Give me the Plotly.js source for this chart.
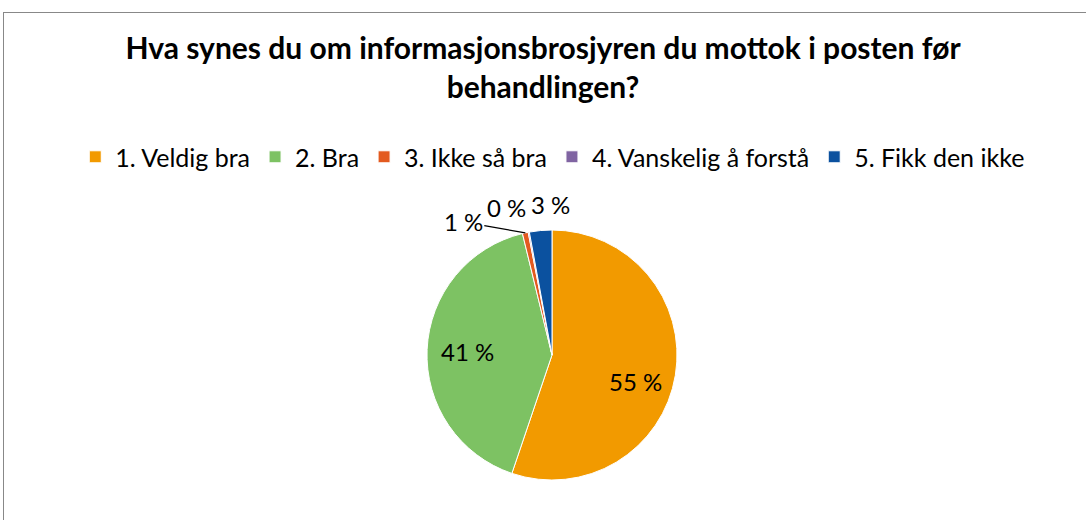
<!DOCTYPE html>
<html><head><meta charset="utf-8">
<script src="https://cdn.plot.ly/plotly-3.0.1.min.js"></script>
<style>
html,body{margin:0;padding:0;background:#fff;overflow:hidden}
#chart{width:1086px;height:520px;position:relative}
#frame{position:absolute;left:3px;top:12px;width:1200px;height:600px;border:1px solid #888;pointer-events:none}
</style></head><body>
<div id="chart"></div>
<div id="frame"></div>
<script>
const titleText = 'Hva synes du om informasjonsbrosjyren du mottok i posten før<br>behandlingen?';
const categories = ['1. Veldig bra', '2. Bra', '3. Ikke så bra', '4. Vanskelig å forstå', '5. Fikk den ikke'];
const shares = [55.2, 41.0, 0.75, 0.15, 2.9];
const colors = ['#F29A00', '#7DC263', '#E35A1F', '#8064A2', '#0B519F'];

const W = 1086, H = 520;
const FONT = 'Lato, "Noto Sans", sans-serif';
const total = shares.reduce((a, b) => a + b, 0);
const labelText = shares.map(v => Math.round(v / total * 100) + ' %');
const isSmall = shares.map(v => v / total < 0.05);

const dom = {x: [427 / W, 677 / W], y: [40 / H, 290 / H]};
const cx = (dom.x[0] + dom.x[1]) / 2, cy = (dom.y[0] + dom.y[1]) / 2;
const rx = (dom.x[1] - dom.x[0]) / 2, ry = (dom.y[1] - dom.y[0]) / 2;

const trace = {
  type: 'pie',
  labels: categories,
  values: shares,
  textinfo: 'none',
  sort: false,
  direction: 'clockwise',
  rotation: 0,
  marker: {colors: colors, line: {color: '#ffffff', width: 1}},
  domain: dom,
  automargin: false,
  hoverinfo: 'label+percent'
};

// label placement style per slice: radius factor and pixel offsets, like the original layout
const labelStyle = [
  {r: 0.68, ax: 0, ay: 13, arrow: false},
  {r: 0.68, ax: 0, ay: 0, arrow: false},
  {r: 1.0, ax: -62, ay: -11, arrow: true},
  {r: 1.0, ax: -22, ay: -25, arrow: false},
  {r: 1.0, ax: 10, ay: -26, arrow: false}
];
const annotations = [];
let cum = 0;
shares.forEach((v, i) => {
  const mid = (cum + v / 2) / total * 2 * Math.PI;
  cum += v;
  const s = labelStyle[i];
  const px = cx + s.r * rx * Math.sin(mid), py = cy + s.r * ry * Math.cos(mid);
  annotations.push({
    xref: 'paper', yref: 'paper', x: px, y: py,
    text: labelText[i], showarrow: true, arrowhead: 0, arrowwidth: 1.3,
    arrowcolor: s.arrow ? '#000' : 'rgba(0,0,0,0)', standoff: 0,
    ax: s.ax, ay: s.ay,
    font: {family: FONT, size: 24, color: '#000'}
  });
});

const layout = {
  width: W, height: H,
  margin: {l: 0, r: 0, t: 0, b: 0},
  paper_bgcolor: '#fff',
  font: {family: FONT, color: '#000'},
  title: {
    text: '<b>' + titleText + '</b>',
    font: {family: FONT, size: 30, color: '#000'},
    x: 0.5, xanchor: 'center', y: 0.886, yanchor: 'top', yref: 'container'
  },
  showlegend: true,
  legend: {
    orientation: 'h', x: 0.509, xanchor: 'center', y: 0.698, yanchor: 'middle',
    font: {family: FONT, size: 25, color: '#000'},
    traceorder: 'normal'
  },
  annotations: annotations
};

Plotly.newPlot('chart', [trace], layout, {displayModeBar: false, staticPlot: true});
</script>
</body></html>
